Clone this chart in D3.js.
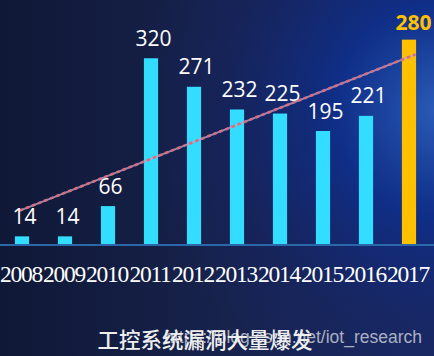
<!DOCTYPE html>
<html><head><meta charset="utf-8">
<script src="https://cdn.jsdelivr.net/npm/d3@7"></script>
<style>html,body{margin:0;padding:0;background:#111a3a;}svg{display:block;}</style>
</head><body>
<svg id="c" width="434" height="356"></svg>
<script>
const years = ["2008","2009","2010","2011","2012","2013","2014","2015","2016","2017"];
const barValues = [14,14,66,320,271,232,225,195,221,352];
const barLabels = ["14","14","66","320","271","232","225","195","221","280"];
const highlightYear = "2017";
const title = "工控系统漏洞大量爆发";
const watermark = "https://blog.csdn.net/iot_research";

const W = 434, H = 356;
const svg = d3.select("#c");
const defs = svg.append("defs");
const lg = defs.append("linearGradient").attr("id","bgL").attr("x1","0").attr("y1","0").attr("x2","1").attr("y2","0");
lg.append("stop").attr("offset","0").attr("stop-color","#0f1836");
lg.append("stop").attr("offset","0.5").attr("stop-color","#17224c");
lg.append("stop").attr("offset","1").attr("stop-color","#1b2a62");
const rg = defs.append("radialGradient").attr("id","bgR").attr("gradientUnits","userSpaceOnUse")
  .attr("cx",440).attr("cy",110).attr("r",300);
rg.append("stop").attr("offset","0").attr("stop-color","#2a5cb8").attr("stop-opacity",1);
rg.append("stop").attr("offset","0.35").attr("stop-color","#0e2f8c").attr("stop-opacity",0.9);
rg.append("stop").attr("offset","0.75").attr("stop-color","#14246a").attr("stop-opacity",0.35);
rg.append("stop").attr("offset","1").attr("stop-color","#14246a").attr("stop-opacity",0);
svg.append("rect").attr("width",W).attr("height",H).attr("fill","url(#bgL)");
svg.append("rect").attr("width",W).attr("height",H).attr("fill","url(#bgR)");

const x = d3.scaleBand().domain(years).range([0.5, 430.5]).padding(0);
const y = d3.scaleLinear().domain([0, 400]).range([244.5, 11.7]);
const bw = x.bandwidth() * 0.33;
const data = years.map((yr,i)=>({yr, v: barValues[i], label: barLabels[i], i}));

// bars
svg.append("g").selectAll("rect").data(data).join("rect")
  .attr("x", d => x(d.yr) + (x.bandwidth()-bw)/2)
  .attr("width", bw)
  .attr("y", d => y(d.v))
  .attr("height", d => y(0) - y(d.v))
  .attr("fill", d => d.yr === highlightYear ? "#ffc000" : "#33ddff");

// axis
const ax = svg.append("g").attr("transform", `translate(0,${y(0)})`)
  .call(d3.axisBottom(x).tickSize(0));
ax.select(".domain").remove();
ax.selectAll("text")
  .attr("y", 37).attr("dy", 0).attr("dx", -1)
  .attr("fill", "#ffffff")
  .style("font-family", "'Liberation Serif', 'DejaVu Serif', serif")
  .style("font-size", "23.5px")
  .style("letter-spacing", "-1.3px");
svg.append("line").attr("x1",0).attr("x2",W).attr("y1",y(0)+0.5).attr("y2",y(0)+0.5)
  .attr("stroke","#2a68aa").attr("stroke-width",2);

// linear trend line (least squares on bar values)
const n = barValues.length;
const mx = d3.mean(d3.range(n)), my = d3.mean(barValues);
const slope = d3.sum(d3.range(n), i => (i-mx)*(barValues[i]-my)) / d3.sum(d3.range(n), i => (i-mx)*(i-mx));
const icpt = my - slope*mx;
const cx = i => x(years[0]) + x.bandwidth()/2 + i * x.step();
const t0 = -0.05, t1 = 9.15;
const tl = svg.append("g");
tl.append("line").attr("x1", cx(t0)).attr("x2", cx(t1))
  .attr("y1", y(icpt + slope*t0)).attr("y2", y(icpt + slope*t1))
  .attr("stroke", "#b6a6d0").attr("stroke-width", 2).attr("opacity",0.8);
tl.append("line").attr("x1", cx(t0)).attr("x2", cx(t1))
  .attr("y1", y(icpt + slope*t0)).attr("y2", y(icpt + slope*t1))
  .attr("stroke", "#e06a7c").attr("stroke-width", 2.6).attr("stroke-dasharray","3.5 3");

// value labels
svg.append("g").selectAll("text").data(data).join("text")
  .attr("x", d => x(d.yr) + x.bandwidth()/2 + (d.yr === highlightYear ? 4.5 : 2.5))
  .attr("y", d => y(d.v) - (d.yr === highlightYear ? 10 : 12.5))
  .attr("text-anchor", "middle")
  .attr("fill", d => d.yr === highlightYear ? "#ffc000" : "#ffffff")
  .style("font-family", "'Open Sans', 'Noto Sans', sans-serif")
  .style("font-weight", d => d.yr === highlightYear ? 700 : 400)
  .style("font-size", "21px")
  .text(d => d.label);

// watermark & title
svg.append("text").attr("x", 422).attr("y", 343).attr("text-anchor","end")
  .attr("fill", "#c4c8d4").attr("opacity", 0.85)
  .style("font-family","'Liberation Sans', Arial, sans-serif").style("font-size","17.5px")
  .text(watermark);
svg.append("text").attr("x", 205).attr("y", 348).attr("text-anchor","middle")
  .attr("fill", "#eeeeee")
  .style("font-family","'Noto Sans CJK SC', sans-serif").style("font-size","21.5px").style("font-weight",500)
  .text(title);
</script>
</body></html>
